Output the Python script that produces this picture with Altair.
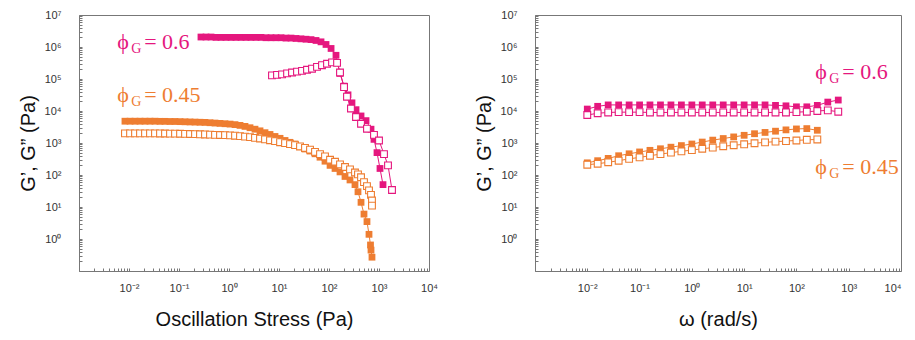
import altair as alt
import pandas as pd

PINK = "#E5177E"
ORANGE = "#EE7D31"

# ---------------- left panel: oscillation stress sweep ----------------
stress45_Gp_x = [0.0083, 0.0105, 0.0132, 0.0166, 0.0209, 0.0263, 0.0331, 0.0417, 0.0525, 0.0661,
                 0.0832, 0.105, 0.132, 0.166, 0.209, 0.263, 0.331, 0.417, 0.525, 0.661,
                 0.832, 1.05, 1.32, 1.66, 2.09, 2.63, 3.31, 4.17, 5.25, 6.61,
                 8.32, 10.5, 13.2, 16.6, 20.9, 26.3, 33.1, 41.7, 52.5, 66.1,
                 83.2, 105, 132, 166, 209, 263, 331, 380, 437, 501,
                 575, 631, 676, 692, 724]
stress45_Gp = [4800, 4800, 4800, 4800, 4800, 4800, 4800, 4750, 4750, 4700,
               4700, 4650, 4600, 4550, 4500, 4450, 4400, 4300, 4200, 4100,
               4000, 3900, 3750, 3550, 3300, 3000, 2700, 2400, 2100, 1850,
               1600, 1400, 1200, 1050, 930, 780, 650, 560, 460, 360,
               270, 200, 160, 125, 90, 70, 50, 30, 14, 6,
               3.5, 1.4, 0.65, 0.45, 0.27]
stress45_Gpp_x = [0.0083, 0.0105, 0.0132, 0.0166, 0.0209, 0.0263, 0.0331, 0.0417, 0.0525, 0.0661,
                  0.0832, 0.105, 0.132, 0.166, 0.209, 0.263, 0.331, 0.417, 0.525, 0.661,
                  0.832, 1.05, 1.32, 1.66, 2.09, 2.63, 3.31, 4.17, 5.25, 6.61,
                  8.32, 10.5, 13.2, 16.6, 20.9, 26.3, 33.1, 41.7, 52.5, 66.1,
                  83.2, 105, 132, 166, 209, 263, 331,
                  380, 437, 501, 575, 631, 692, 724, 724]
stress45_Gpp = [2000, 2000, 2000, 2000, 2000, 2000, 2000, 1990, 1980, 1970,
                1960, 1950, 1930, 1910, 1890, 1870, 1850, 1830, 1800, 1780,
                1760, 1730, 1690, 1640, 1580, 1520, 1450, 1380, 1300, 1220,
                1140, 1060, 990, 920, 860, 780, 700, 620, 530, 450,
                380, 300, 260, 215, 178, 150, 120,
                105, 85, 60, 45, 33, 24, 16, 11]
stress60_Gp_x = [0.275, 0.347, 0.437, 0.550, 0.692, 0.871, 1.10, 1.38, 1.74, 2.19,
                 2.75, 3.47, 4.37, 5.50, 6.92, 8.71, 11.0, 13.8, 17.4, 21.9,
                 27.5, 34.7, 43.7, 55.0, 69.2, 87.1, 110, 138, 166, 200,
                 240, 288, 347, 437, 550, 692, 794, 912, 1047, 1202]
stress60_Gp = [2.05e6, 2.05e6, 2.05e6, 2.0e6, 2.0e6, 2.0e6, 2.0e6, 2.0e6, 2.0e6, 2.0e6,
               2.0e6, 2.0e6, 2.0e6, 1.95e6, 1.95e6, 1.95e6, 1.95e6, 1.9e6, 1.9e6, 1.85e6,
               1.8e6, 1.75e6, 1.7e6, 1.6e6, 1.45e6, 1.2e6, 9e5, 5.5e5, 1.5e5, 6e4,
               3.2e4, 1.8e4, 1.1e4, 7e3, 5e3, 2.7e3, 1.3e3, 500, 160, 50]
stress60_Gpp_x = [7.24, 9.12, 11.5, 14.5, 18.2, 22.9, 28.8, 36.3, 45.7, 57.5,
                  72.4, 91.2, 115, 145, 166, 200, 229, 275, 347, 437,
                  575, 794, 1000, 1259, 1514, 1820]
stress60_Gpp = [1.3e5, 1.35e5, 1.4e5, 1.5e5, 1.6e5, 1.7e5, 1.8e5, 1.95e5, 2.1e5, 2.4e5,
                2.7e5, 3.0e5, 3.3e5, 3.2e5, 1.6e5, 5.6e4, 2.8e4, 1.2e4, 6.5e3, 4e3,
                2.8e3, 1.8e3, 1.2e3, 450, 200, 34]

# ---------------- right panel: frequency sweep ----------------
freq60_x = [0.01, 0.0158, 0.0251, 0.0398, 0.0631, 0.1, 0.158, 0.251, 0.398, 0.631,
            1.0, 1.58, 2.51, 3.98, 6.31, 10, 15.8, 25.1, 39.8, 63.1,
            100, 158, 251, 398, 631]
freq60_Gp = [11500, 14000, 15500, 15500, 15500, 15500, 15500, 15500, 15500, 15500,
             15500, 15500, 15500, 15500, 15500, 15500, 15500, 15500, 15000, 14500,
             13500, 13500, 15000, 19000, 22000]
freq60_Gpp = [7500, 8500, 9000, 9200, 9200, 9200, 9000, 9000, 9000, 9000,
              9000, 9000, 9000, 9000, 9000, 9000, 9000, 9000, 9000, 9000,
              9200, 9500, 10000, 10500, 9500]
freq45_x = [0.01, 0.0158, 0.0251, 0.0398, 0.0631, 0.1, 0.158, 0.251, 0.398, 0.631,
            1.0, 1.58, 2.51, 3.98, 6.31, 10, 15.8, 25.1, 39.8, 63.1,
            100, 158, 251]
freq45_Gp = [240, 280, 330, 400, 460, 525, 590, 660, 740, 830,
             930, 1070, 1230, 1380, 1550, 1740, 1950, 2140, 2340, 2570,
             2750, 2820, 2500]
freq45_Gpp = [210, 225, 250, 280, 320, 355, 400, 450, 500, 550,
              600, 660, 720, 790, 850, 910, 980, 1050, 1100, 1150,
              1200, 1260, 1290]

# ---------------- annotations ----------------
ann_series = ["0.6", "0.45"]
ann_text = ["= 0.6", "= 0.45"]
ann_left_x = [0.0058, 0.0058]
ann_left_y = [8.7e5, 1.9e4]
ann_right_x = [230, 230]
ann_right_y = [1.0e5, 107]

# ---------------- axes ----------------
x_decades = [0.01, 0.1, 1, 10, 100, 1000, 10000]
x_decade_labels = ["10⁻²", "10⁻¹", "10⁰", "10¹", "10²", "10³", "10⁴"]
y_decades = [1, 10, 100, 1000, 10000, 100000, 1000000, 10000000]
y_decade_labels = ["10⁰", "10¹", "10²", "10³", "10⁴", "10⁵", "10⁶", "10⁷"]
x_ticks = [m * d for d in [0.001, 0.01, 0.1, 1, 10, 100, 1000] for m in range(1, 10)] + [10000]
y_ticks = [m * d for d in [0.1, 1, 10, 100, 1000, 10000, 100000, 1000000] for m in range(1, 10)] + [10000000]


def label_expr(vals, labels):
    s = "''"
    for v, l in reversed(list(zip(vals, labels))):
        s = f"datum.value == {v!r} ? '{l}' : {s}"
    return s


def make_df(series):
    rows = []
    for name, kind, xs, ys in series:
        for i, (x, y) in enumerate(zip(xs, ys)):
            rows.append(dict(series=name, kind=kind, key=name + kind, i=i, x=x, y=y))
    return pd.DataFrame(rows)


left_df = make_df([
    ("0.6", "Gp", stress60_Gp_x, stress60_Gp),
    ("0.6", "Gpp", stress60_Gpp_x, stress60_Gpp),
    ("0.45", "Gp", stress45_Gp_x, stress45_Gp),
    ("0.45", "Gpp", stress45_Gpp_x, stress45_Gpp),
])
right_df = make_df([
    ("0.6", "Gp", freq60_x, freq60_Gp),
    ("0.6", "Gpp", freq60_x, freq60_Gpp),
    ("0.45", "Gp", freq45_x, freq45_Gp),
    ("0.45", "Gpp", freq45_x, freq45_Gpp),
])
left_ann = pd.DataFrame(dict(series=ann_series, txt=ann_text, x=ann_left_x, y=ann_left_y))
right_ann = pd.DataFrame(dict(series=ann_series, txt=ann_text, x=ann_right_x, y=ann_right_y))

cscale = alt.Scale(domain=["0.6", "0.45"], range=[PINK, ORANGE])


def panel(df, ann, xtitle, width, flush):
    xaxis = alt.Axis(title=xtitle, values=x_ticks, labelExpr=label_expr(x_decades, x_decade_labels),
                     domain=False, offset=-3, tickSize=3, labelPadding=11, titlePadding=16,
                     labelFlush=flush, labelOverlap=False)
    yaxis = alt.Axis(title="G’, G” (Pa)", values=y_ticks, labelExpr=label_expr(y_decades, y_decade_labels),
                     domain=False, offset=-3, tickSize=3, labelPadding=18, titlePadding=6,
                     labelOverlap=False)
    x = alt.X("x:Q", scale=alt.Scale(type="log", domain=[1e-3, 1e4], nice=False), axis=xaxis)
    y = alt.Y("y:Q", scale=alt.Scale(type="log", domain=[0.1, 1e7], nice=False), axis=yaxis)
    base = alt.Chart(df).encode(x=x, y=y)
    lines = base.mark_line(strokeWidth=1).encode(
        color=alt.Color("series:N", scale=cscale, legend=None), detail="key:N", order="i:Q")
    filled = base.transform_filter("datum.kind == 'Gp'").mark_square(size=46, opacity=1).encode(
        color=alt.Color("series:N", scale=cscale, legend=None))
    opened = base.transform_filter("datum.kind == 'Gpp'").mark_square(
        size=46, opacity=1, fill="white", strokeWidth=1.1).encode(
        stroke=alt.Stroke("series:N", scale=cscale, legend=None))
    abase = alt.Chart(ann).encode(x=x, y=y, color=alt.Color("series:N", scale=cscale, legend=None))
    t1 = abase.mark_text(text="ϕ", font="Liberation Serif", fontSize=22, align="left", baseline="alphabetic")
    t2 = abase.mark_text(text="G", font="Liberation Serif", fontSize=14, align="left",
                         baseline="alphabetic", dx=14, dy=4)
    t3 = abase.mark_text(font="Liberation Serif", fontSize=22, align="left", baseline="alphabetic",
                         dx=27).encode(text="txt:N")
    return alt.layer(lines, filled, opened, t1, t2, t3).properties(width=width, height=256)


left = panel(left_df, left_ann, "Oscillation Stress (Pa)", 350, False)
right = panel(right_df, right_ann, "ω (rad/s)", 366, True)

chart = alt.hconcat(left, right, spacing=35).properties(
    padding={"left": 9, "top": 0, "right": 0, "bottom": 0}
).configure_view(stroke="#777", strokeWidth=1).configure_axis(
    labelFont="Liberation Sans", titleFont="Liberation Sans", labelColor="#333",
    titleColor="#111", titleFontWeight="normal", titleFontSize=20, labelFontSize=11,
    tickColor="#777", grid=False
)

chart.save("out.html", embed_options={"renderer": "svg", "actions": False})
